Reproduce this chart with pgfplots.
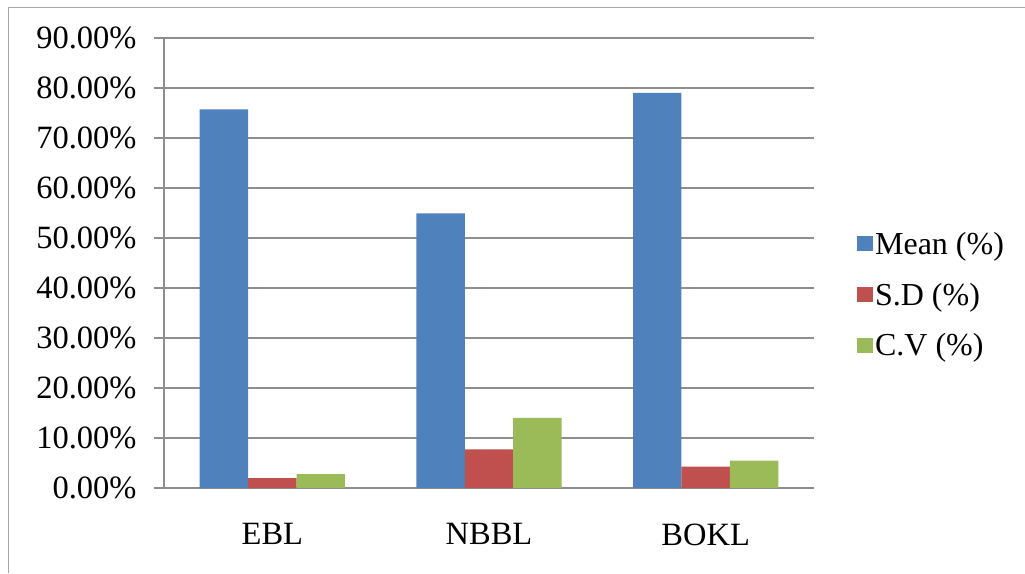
\documentclass[border=0pt]{standalone}
\usepackage{pgfplots}
\pgfplotsset{compat=1.18}
\usepackage{fontspec}
\setmainfont{Liberation Serif}
\definecolor{cMean}{HTML}{4F81BD}
\definecolor{cSD}{HTML}{C0504D}
\definecolor{cCV}{HTML}{9BBB59}
\definecolor{gridc}{HTML}{8E8E8E}
\begin{document}
\begin{tikzpicture}[x=1pt,y=1pt]
\path[use as bounding box] (0,0) rectangle (1025,573);
\draw[gray!70,line width=1.5pt] (8.5,0) -- (8.5,565.5) -- (1025,565.5);
\begin{axis}[
  at={(164pt,85pt)}, anchor=south west,
  scale only axis, width=650pt, height=450pt,
  font=\fontsize{32.5}{38}\selectfont,
  /pgf/number format/assume math mode=true,
  ybar=0pt, bar width=48.4pt,
  xmin=-0.5, xmax=2.5, ymin=0, ymax=90,
  xtick={0,1,2}, xticklabels={EBL,NBBL,BOKL},
  minor xtick={-0.5,0.5,1.5,2.5},
  ytick={0,10,...,90},
  yticklabel={\pgfmathprintnumber[fixed,fixed zerofill,precision=2]{\tick}\%},
  axis x line*=bottom, axis y line*=left,
  axis line style={gridc,line width=1.2pt},
  tick align=outside,
  major tick length=10pt, minor tick length=10pt,
  xtick style={draw=none},
  minor x tick style={gridc,line width=1.2pt},
  ytick style={gridc,line width=1.2pt},
  ymajorgrids, grid style={gridc,line width=1.2pt},
  xticklabel style={yshift=-22pt},
  yticklabel style={xshift=-14pt},
  legend style={at={(1.066,0.4296)},anchor=west,draw=none,fill=none,
    inner sep=0pt, row sep=23pt, font=\fontsize{32}{38}\selectfont,
    /tikz/every even column/.append style={column sep=2pt}},
  legend cell align=left,
  legend image code/.code={\fill[#1,draw=none] (0pt,-7.5pt) rectangle (16pt,7.5pt);},
]
\addplot[fill=cMean,draw=none] coordinates {(0,75.7) (1,54.9) (2,79.0)};
\addplot[fill=cSD,draw=none] coordinates {(0,2.0) (1,7.7) (2,4.3)};
\addplot[fill=cCV,draw=none] coordinates {(0,2.8) (1,14.0) (2,5.5)};
\legend{Mean (\%),S.D (\%),C.V (\%)}
\end{axis}
\end{tikzpicture}
\end{document}
